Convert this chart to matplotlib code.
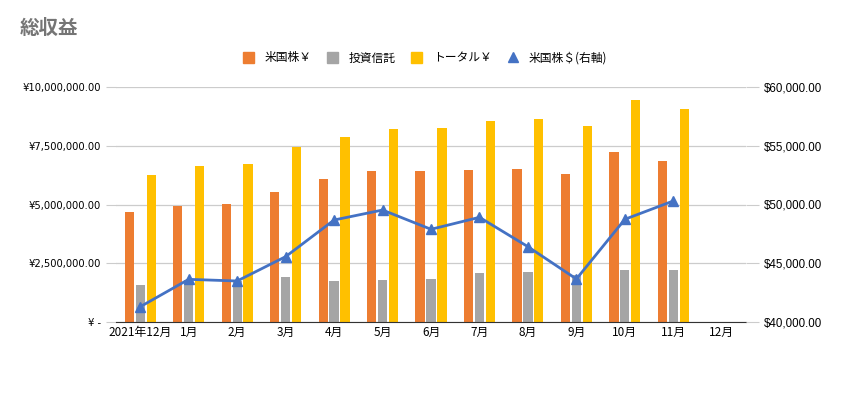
import numpy as np
import matplotlib
matplotlib.use("Agg")
import matplotlib.pyplot as plt
from matplotlib.ticker import FuncFormatter, MultipleLocator
from matplotlib.lines import Line2D
from matplotlib.patches import Patch

plt.rcParams['font.family'] = ['Noto Sans CJK JP', 'DejaVu Sans']

# データ
months = ['2021年12月', '1月', '2月', '3月', '4月', '5月', '6月',
          '7月', '8月', '9月', '10月', '11月', '12月']
us_stock_yen = [4.67e6, 4.92e6, 5.02e6, 5.52e6, 6.07e6, 6.43e6, 6.43e6,
                6.45e6, 6.49e6, 6.28e6, 7.23e6, 6.84e6, np.nan]
fund_yen = [1.57e6, 1.79e6, 1.74e6, 1.91e6, 1.74e6, 1.79e6, 1.83e6,
            2.08e6, 2.12e6, 2.02e6, 2.21e6, 2.21e6, np.nan]
total_yen = [6.25e6, 6.64e6, 6.72e6, 7.45e6, 7.87e6, 8.21e6, 8.26e6,
             8.55e6, 8.64e6, 8.34e6, 9.45e6, 9.06e6, np.nan]
us_stock_usd = [41300, 43630, 43490, 45560, 48680, 49530, 47890,
                48910, 46410, 43660, 48740, 50300]

c_orange = '#ed7d31'
c_gray = '#a5a5a5'
c_yellow = '#ffc000'
c_blue = '#4472c4'
grid_c = '#cccccc'

fig = plt.figure(figsize=(8.51, 3.99), dpi=100)
ax = fig.add_axes([116 / 851, 1 - 322 / 399, 630 / 851, 235 / 399])
x = np.arange(len(months))
w = 0.19
step = 0.225
ax.bar(x - step, us_stock_yen, w, color=c_orange, zorder=2)
ax.bar(x, fund_yen, w, color=c_gray, zorder=2)
ax.bar(x + step, total_yen, w, color=c_yellow, zorder=2)

ax.set_ylim(0, 10e6)
ax.set_xlim(-0.5, len(months) - 0.5)
ax.yaxis.set_major_locator(MultipleLocator(2.5e6))


def yen_fmt(v, pos):
    if v == 0:
        return '¥ -'
    return '¥{:,.2f}'.format(v)


ax.yaxis.set_major_formatter(FuncFormatter(yen_fmt))
ax.grid(axis='y', color=grid_c, linewidth=0.9, zorder=0)
for s in ['top', 'right', 'left']:
    ax.spines[s].set_visible(False)
ax.spines['bottom'].set_color('#333333')
ax.spines['bottom'].set_zorder(3)
ax.set_xticks(x)
ax.set_xticklabels(months, fontsize=8.5)
ax.tick_params(axis='x', length=0, pad=3)
ax.tick_params(axis='y', length=7, color=grid_c, labelsize=7.2, pad=4)
for lbl in ax.get_yticklabels():
    lbl.set_fontfamily('DejaVu Sans')

ax2 = ax.twinx()
ax2.plot(x[:len(us_stock_usd)], us_stock_usd, color=c_blue, linewidth=2,
         marker='^', markersize=7, zorder=4)
ax2.set_ylim(40000, 60000)
ax2.yaxis.set_major_locator(MultipleLocator(5000))
ax2.yaxis.set_major_formatter(FuncFormatter(lambda v, p: '${:,.2f}'.format(v)))
for s in ['top', 'right', 'left', 'bottom']:
    ax2.spines[s].set_visible(False)
ax2.tick_params(axis='y', length=9, color=grid_c, labelsize=8.3, pad=4)
for lbl in ax2.get_yticklabels():
    lbl.set_fontfamily('Liberation Sans')

fig.text(20 / 851, 1 - 28 / 399, '総収益', fontsize=14, fontweight='bold',
         color='#757575', va='center', ha='left')

handles = [Patch(color=c_orange, label='米国株￥'),
           Patch(color=c_gray, label='投資信託'),
           Patch(color=c_yellow, label='トータル￥'),
           Line2D([], [], color=c_blue, marker='^', linestyle='None',
                  markersize=7, label='米国株＄(右軸)')]
fig.legend(handles=handles, loc='center', bbox_to_anchor=(425 / 851, 1 - 58 / 399),
           ncol=4, frameon=False, fontsize=8.5, handlelength=0.95, handleheight=0.95,
           columnspacing=1.3, handletextpad=0.9)

fig.savefig('out.png', dpi=100)
